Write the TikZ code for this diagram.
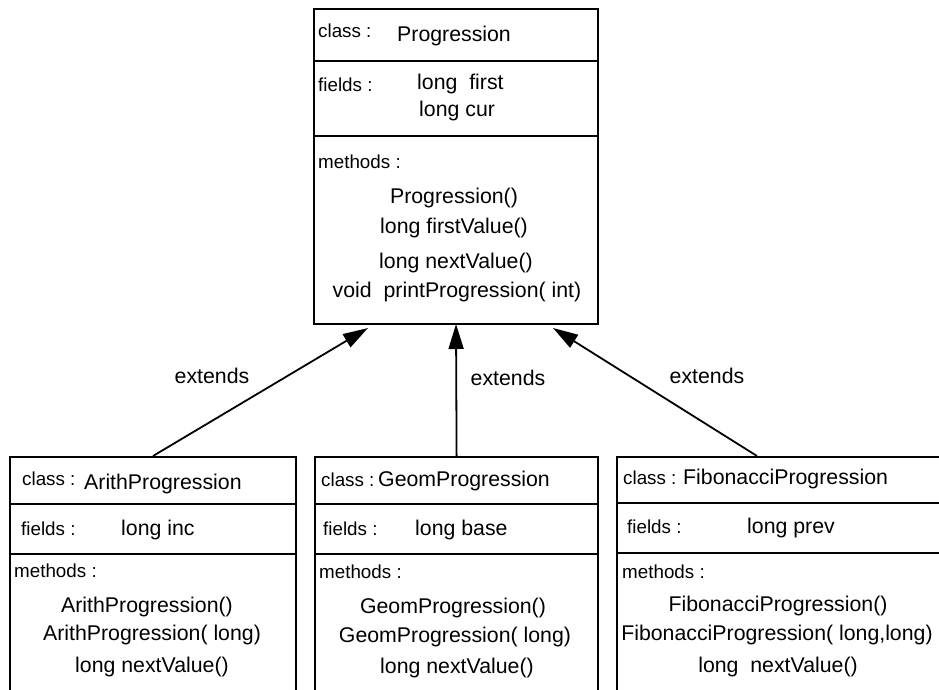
\documentclass[tikz,border=0pt]{standalone}
\usepackage{fontspec}
\setmainfont{Liberation Sans}
\usetikzlibrary{arrows.meta}
\tikzset{
  umlbox/.style={draw, line width=2.2pt, inner sep=0pt, anchor=north west},
  sepline/.style={line width=2.2pt},
  lbl/.style={font=\fontsize{18.8}{20}\selectfont, inner sep=0pt, anchor=base west},
  txt/.style={font=\fontsize{21.3}{24}\selectfont, inner sep=0pt, anchor=base},
  txtl/.style={txt, anchor=base west},
  ext/.style={line width=1.8pt, -{Triangle[length=25pt,width=15pt]}},
}
\begin{document}
\begin{tikzpicture}[x=1pt,y=-1pt]
\useasboundingbox (0,0) rectangle (939,690);
\clip (0,0) rectangle (939,690);
% boxes
\node[umlbox, minimum width=284pt, minimum height=315pt] (prog) at (313,8) {};
\node[umlbox, minimum width=286pt, minimum height=260pt] (arith) at (9,456) {};
\node[umlbox, minimum width=283pt, minimum height=260pt] (geom) at (314,456) {};
\node[umlbox, minimum width=340pt, minimum height=260pt] (fib) at (616,456) {};
% dividers
\draw[sepline] (prog.west |- 0,61) -- (prog.east |- 0,61);
\draw[sepline] (prog.west |- 0,136) -- (prog.east |- 0,136);
\draw[sepline] (arith.west |- 0,504) -- (arith.east |- 0,504);
\draw[sepline] (arith.west |- 0,554) -- (arith.east |- 0,554);
\draw[sepline] (geom.west |- 0,504) -- (geom.east |- 0,504);
\draw[sepline] (geom.west |- 0,554) -- (geom.east |- 0,554);
\draw[sepline] (fib.west |- 0,503) -- (fib.east |- 0,503);
\draw[sepline] (fib.west |- 0,553) -- (fib.east |- 0,553);
% Progression texts
\node[lbl] (pc) at (318,38) {class :};
\node[txtl] (pn) at (397,42) {Progression};
\node[lbl] (pf) at (318,92) {fields :};
\node[txtl] (pf1) at (417,90) {long\ \ first};
\node[txtl] (pf2) at (419,117) {long cur};
\node[lbl] (pm) at (318,168) {methods :};
\node[txt] (pm1) at (454,203) {Progression()};
\node[txt] (pm2) at (454,233) {long firstValue()};
\node[txt] (pm3) at (456,268) {long nextValue()};
\node[txt] (pm4) at (457,297) {void\ \ printProgression( int)};
% Arith texts
\node[lbl] (ac) at (22,485) {class :};
\node[txtl] (an) at (84,489) {ArithProgression};
\node[lbl] (af) at (21,535) {fields :};
\node[txtl] (af1) at (121,535) {long inc};
\node[lbl] (am) at (14,577) {methods :};
\node[txt] (am1) at (147,612) {ArithProgression()};
\node[txt] (am2) at (152,640) {ArithProgression( long)};
\node[txt] (am3) at (152,672) {long nextValue()};
% Geom texts
\node[lbl] (gc) at (321,486) {class :};
\node[txtl] (gn) at (378,486) {GeomProgression};
\node[lbl] (gf) at (323,535) {fields :};
\node[txtl] (gf1) at (415,535) {long base};
\node[lbl] (gm) at (319,578) {methods :};
\node[txt] (gm1) at (453,613) {GeomProgression()};
\node[txt] (gm2) at (455,642) {GeomProgression( long)};
\node[txt] (gm3) at (457,673) {long nextValue()};
% Fibonacci texts
\node[lbl] (fc) at (623,484) {class :};
\node[txtl] (fn) at (683,484) {FibonacciProgression};
\node[lbl] (ff) at (627,533) {fields :};
\node[txtl] (ff1) at (747,533) {long prev};
\node[lbl] (fm) at (622,578) {methods :};
\node[txt] (fm1) at (778,611) {FibonacciProgression()};
\node[txt] (fm2) at (777,640) {FibonacciProgression( long,long)};
\node[txt] (fm3) at (778,672) {long\ \ nextValue()};
% connectors
\coordinate (ta) at (368,328);
\coordinate (tg) at (456,324);
\coordinate (tf) at (553,328);
\coordinate (sa) at (153,456);
\coordinate (sf) at (757,456);
\draw[ext] (sa) -- (ta);
\draw[ext] (geom.north) -- (tg);
\draw[ext] (sf) -- (tf);
\node[txt] (e1) at (212,383) {extends};
\node[txt] (e2) at (508,385) {extends};
\node[txt] (e3) at (707,383) {extends};
\end{tikzpicture}
\end{document}
